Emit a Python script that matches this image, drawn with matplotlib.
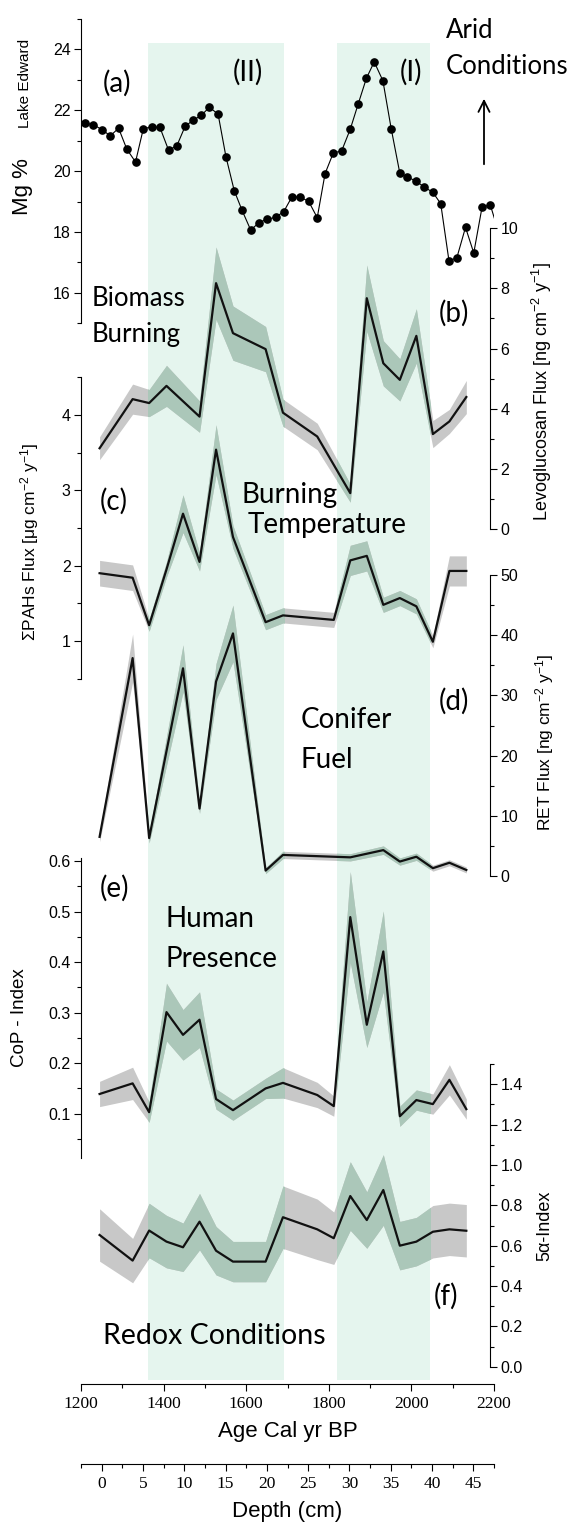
import matplotlib
matplotlib.use('Agg')
import numpy as np
import matplotlib.pyplot as plt
from matplotlib.patches import Rectangle

plt.rcParams['font.family'] = ['Liberation Sans', 'DejaVu Sans']
plt.rcParams['mathtext.default'] = 'regular'

###############################################################################
# Data

# shaded periods (II) and (I), cal yr BP
periods = [(1363, 1691), (1819, 2045)]

# (a) Lake Edward Mg %
mg_age = [1209, 1230, 1252, 1271, 1291, 1311, 1332, 1351, 1372, 1391,
          1412, 1432, 1452, 1471, 1491, 1511, 1532, 1551, 1571, 1590,
          1611, 1631, 1651, 1671, 1691, 1711, 1731, 1751, 1772, 1791,
          1811, 1831, 1852, 1871, 1891, 1910, 1931, 1951, 1972, 1990,
          2011, 2031, 2052, 2071, 2091, 2110, 2131, 2151, 2171, 2191, 2211]
mg_pct = [21.57, 21.53, 21.35, 21.16, 21.41, 20.72, 20.30, 21.40, 21.45, 21.44,
          20.69, 20.83, 21.47, 21.67, 21.83, 22.10, 21.87, 20.47, 19.36, 18.71,
          18.06, 18.31, 18.42, 18.48, 18.67, 19.16, 19.14, 19.01, 18.47, 19.92,
          20.60, 20.66, 21.38, 22.20, 23.05, 23.59, 22.97, 21.40, 19.93, 19.81,
          19.67, 19.48, 19.30, 18.93, 17.05, 17.15, 18.15, 17.31, 18.81, 18.89, 18.0]

# (b) levoglucosan flux
levo_age = [1245, 1325, 1365, 1407, 1487, 1527, 1568, 1647, 1689, 1772,
            1852, 1892, 1932, 1972, 2012, 2052, 2092, 2133]
levo_flux = [2.69, 4.32, 4.19, 4.76, 3.74, 8.17, 6.51, 5.98, 3.87, 3.08,
             1.20, 7.67, 5.51, 4.96, 6.42, 3.16, 3.58, 4.39]
levo_err = [0.38, 0.5, 0.45, 0.68, 0.52, 1.2, 0.9, 0.75, 0.45, 0.44,
            0.3, 1.1, 0.75, 0.7, 0.9, 0.45, 0.4, 0.55]

# (c) sum PAHs flux
pah_age = [1245, 1325, 1365, 1407, 1447, 1487, 1527, 1568, 1647, 1689,
           1812, 1852, 1892, 1932, 1972, 2012, 2052, 2092, 2133]
pah_flux = [1.90, 1.84, 1.21, 1.95, 2.69, 2.05, 3.54, 2.38, 1.25, 1.34,
            1.28, 2.07, 2.13, 1.48, 1.57, 1.46, 0.99, 1.93, 1.93]
pah_err = [0.17, 0.17, 0.08, 0.1, 0.25, 0.12, 0.33, 0.15, 0.1, 0.1,
           0.1, 0.2, 0.2, 0.1, 0.1, 0.1, 0.08, 0.2, 0.2]

# (d) retene flux
ret_age = [1245, 1325, 1365, 1447, 1487, 1527, 1568, 1647, 1689, 1852,
           1932, 1972, 2012, 2052, 2092, 2133]
ret_flux = [6.5, 36.2, 6.3, 34.5, 11.2, 32.3, 40.3, 0.9, 3.5, 3.1,
            4.3, 2.4, 3.2, 1.3, 2.2, 1.0]
ret_err = [0.8, 4.0, 0.8, 3.9, 0.8, 3.0, 4.7, 0.5, 0.6, 0.6,
           0.7, 0.6, 0.6, 0.5, 0.5, 0.5]

# (e) CoP index
cop_age = [1245, 1325, 1365, 1407, 1447, 1487, 1527, 1568, 1647, 1689,
           1772, 1812, 1852, 1892, 1932, 1972, 2012, 2052, 2092, 2133]
cop_index = [0.139, 0.160, 0.103, 0.301, 0.256, 0.286, 0.129, 0.107, 0.150, 0.161,
             0.137, 0.115, 0.489, 0.276, 0.421, 0.095, 0.127, 0.119, 0.167, 0.109]
cop_err = [0.025, 0.032, 0.02, 0.057, 0.05, 0.055, 0.02, 0.02, 0.02, 0.03,
           0.025, 0.02, 0.09, 0.045, 0.08, 0.02, 0.02, 0.02, 0.03, 0.02]

# (f) 5alpha index
five_age = [1245, 1325, 1365, 1407, 1447, 1487, 1527, 1568, 1647, 1689,
            1772, 1812, 1852, 1892, 1932, 1972, 2012, 2052, 2092, 2133]
five_index = [0.653, 0.526, 0.675, 0.620, 0.592, 0.719, 0.575, 0.521, 0.521, 0.741,
              0.681, 0.637, 0.846, 0.727, 0.876, 0.600, 0.620, 0.669, 0.681, 0.674]
five_err = [0.13, 0.11, 0.135, 0.13, 0.12, 0.14, 0.12, 0.1, 0.1, 0.155,
            0.15, 0.13, 0.17, 0.14, 0.175, 0.12, 0.12, 0.13, 0.13, 0.13]

###############################################################################
# Layout (pixels of the 575 x 1524 figure)
W, H = 575, 1524
L, R = 81, 494          # x pixel of 1200 and 2200 yr BP
TOP, BOT = 19, 1384     # vertical extent shared by all panels
RECT = [L / W, 1 - BOT / H, (R - L) / W, (BOT - TOP) / H]
RIGHT_SPINE = 2191

MINT = '#e5f5ee'
GREY = '#c8c8c8'
GREEN_GREY = '#abc7b9'
ANNOT = dict(family='Lato', color='black')

fig = plt.figure(figsize=(W / 100, H / 100), dpi=100)

# base axes: y data = pixel row, used for spans and annotations
ax0 = fig.add_axes(RECT)
ax0.set_xlim(1200, 2200)
ax0.set_ylim(BOT, TOP)
for s in ['left', 'right', 'top']:
    ax0.spines[s].set_visible(False)
ax0.spines['bottom'].set_linewidth(0.8)
ax0.set_yticks([])
ax0.set_xticks(np.arange(1200, 2201, 200))
ax0.set_xticks(np.arange(1300, 2200, 200), minor=True)
ax0.tick_params(axis='x', which='major', length=5, width=0.8, direction='out', pad=4)
ax0.tick_params(axis='x', which='minor', length=3, width=0.8, direction='out')
for t in ax0.get_xticklabels():
    t.set_family('Liberation Serif')
    t.set_fontsize(12.5)
ax0.set_xlabel('Age Cal yr BP', fontsize=16, labelpad=6)
for a0, a1 in periods:
    ax0.add_patch(Rectangle((a0, 43), a1 - a0, 1337, color=MINT, lw=0, zorder=0))


def px_to_age(px):
    return 1200 + (px - L) * 1000 / (R - L)


def make_panel(v1, p1, v2, p2, side, bounds, major, minor, fmt=None):
    s = (v2 - v1) / (p2 - p1)
    ax = fig.add_axes(RECT)
    ax.patch.set_visible(False)
    ax.set_xlim(1200, 2200)
    ax.set_ylim(v1 + (BOT - p1) * s, v1 + (TOP - p1) * s)
    ax.set_xticks([])
    other = 'right' if side == 'left' else 'left'
    for sp in ['top', 'bottom', other]:
        ax.spines[sp].set_visible(False)
    ax.spines[side].set_bounds(*bounds)
    ax.spines[side].set_linewidth(0.8)
    if side == 'right':
        ax.spines['right'].set_position(('data', RIGHT_SPINE))
        ax.yaxis.tick_right()
    ax.set_yticks(major)
    ax.set_yticks(minor, minor=True)
    if fmt:
        ax.set_yticklabels([fmt % v for v in major])
    ax.tick_params(axis='y', which='major', length=5, width=0.8,
                   direction='out', labelsize=11.5, pad=2.5)
    ax.tick_params(axis='y', which='minor', length=2.8, width=0.8, direction='out')
    return ax


def band_line(ax, age, val, err):
    val = np.array(val)
    err = np.array(err)
    lo, hi = val - err, val + err
    ax.fill_between(age, lo, hi, color=GREY, lw=0)
    y0, y1 = ax.get_ylim()
    for a0, a1 in periods:
        f = ax.fill_between(age, lo, hi, color=GREEN_GREY, lw=0)
        f.set_clip_path(Rectangle((a0, y0), a1 - a0, y1 - y0, transform=ax.transData))
    ax.plot(age, val, color='#111111', lw=1.6)


def side_label(ax, text, px, py, size, side):
    ax.yaxis.set_label_position(side)
    ax.set_ylabel(text, fontsize=size)
    ax.yaxis.label.set_verticalalignment('center')
    ax.yaxis.set_label_coords((px - L) / (R - L), (BOT - py) / (BOT - TOP))


# (a) Mg %
ax_a = make_panel(24, 49.3, 16, 292.7, 'left', (15, 25),
                  [16, 18, 20, 22, 24], [15, 17, 19, 21, 23, 25])
ax_a.plot(mg_age, mg_pct, color='black', lw=0.8, marker='o', ms=5.2)
side_label(ax_a, 'Mg %', 23, 187, 16, 'left')

# (b) levoglucosan
ax_b = make_panel(10, 228, 0, 529.3, 'right', (0, 10),
                  [0, 2, 4, 6, 8, 10], [1, 3, 5, 7, 9])
band_line(ax_b, levo_age, levo_flux, levo_err)
side_label(ax_b, 'Levoglucosan Flux [ng cm$^{-2}$ y$^{-1}$]', 542, 392, 13, 'right')

# (c) PAHs
ax_c = make_panel(4, 415, 1, 641, 'left', (0.5, 4.5),
                  [1, 2, 3, 4], [0.5, 1.5, 2.5, 3.5, 4.5])
band_line(ax_c, pah_age, pah_flux, pah_err)
side_label(ax_c, '\u03a3PAHs Flux [\u03bcg cm$^{-2}$ y$^{-1}$]', 30, 542, 12.5, 'left')

# (d) retene
ax_d = make_panel(50, 575, 0, 876, 'right', (0, 50),
                  [0, 10, 20, 30, 40, 50], [5, 15, 25, 35, 45])
band_line(ax_d, ret_age, ret_flux, ret_err)
side_label(ax_d, 'RET Flux [ng cm$^{-2}$ y$^{-1}$]', 545, 742, 12.5, 'right')

# (e) CoP index
ax_e = make_panel(0.6, 861, 0.1, 1113.7, 'left', (0.012, 0.605),
                  [0.1, 0.2, 0.3, 0.4, 0.5, 0.6],
                  [0.05, 0.15, 0.25, 0.35, 0.45, 0.55], fmt='%.1f')
band_line(ax_e, cop_age, cop_index, cop_err)
side_label(ax_e, 'CoP - Index', 20, 1018, 13.5, 'left')

# (f) 5alpha index
ax_f = make_panel(1.4, 1084.3, 0.0, 1366.7, 'right', (0, 1.5),
                  [0.0, 0.2, 0.4, 0.6, 0.8, 1.0, 1.2, 1.4],
                  [0.1, 0.3, 0.5, 0.7, 0.9, 1.1, 1.3, 1.5], fmt='%.1f')
band_line(ax_f, five_age, five_index, five_err)
side_label(ax_f, '5\u03b1-Index', 545, 1226, 13, 'right')

###############################################################################
# Annotations (x in yr BP, y in pixel rows)
ax0.text(px_to_age(24.5), 83, 'Lake Edward', rotation=90, ha='center', va='center',
         fontsize=11)
ax0.text(px_to_age(117), 83, '(a)', ha='center', va='center', fontsize=20, **ANNOT)
ax0.text(px_to_age(248), 72, '(II)', ha='center', va='center', fontsize=20, **ANNOT)
ax0.text(px_to_age(410.5), 72, '(I)', ha='center', va='center', fontsize=20, **ANNOT)
ax0.text(px_to_age(445.5), 37.7, 'Arid', ha='left', va='baseline', fontsize=18.5, **ANNOT)
ax0.text(px_to_age(445.5), 74, 'Conditions', ha='left', va='baseline', fontsize=18.5, **ANNOT)
ax0.annotate('', xy=(px_to_age(484), 96), xytext=(px_to_age(484), 167),
             arrowprops=dict(arrowstyle='->', lw=1.3, color='black', mutation_scale=20))

ax0.text(px_to_age(91.7), 306, 'Biomass', ha='left', va='baseline', fontsize=18.5, **ANNOT)
ax0.text(px_to_age(91.7), 341.7, 'Burning', ha='left', va='baseline', fontsize=18.5, **ANNOT)
ax0.text(px_to_age(453.6), 313, '(b)', ha='center', va='center', fontsize=20, **ANNOT)

ax0.text(px_to_age(113.7), 501.7, '(c)', ha='center', va='center', fontsize=20, **ANNOT)
ax0.text(px_to_age(241), 503.3, 'Burning', ha='left', va='baseline', fontsize=20, **ANNOT)
ax0.text(px_to_age(247.5), 533.3, 'Temperature', ha='left', va='baseline', fontsize=20, **ANNOT)

ax0.text(px_to_age(300.7), 728.3, 'Conifer', ha='left', va='baseline', fontsize=20, **ANNOT)
ax0.text(px_to_age(300.7), 768.3, 'Fuel', ha='left', va='baseline', fontsize=20, **ANNOT)
ax0.text(px_to_age(453.6), 701.7, '(d)', ha='center', va='center', fontsize=20, **ANNOT)

ax0.text(px_to_age(114.4), 888.3, '(e)', ha='center', va='center', fontsize=20, **ANNOT)
ax0.text(px_to_age(165), 926.7, 'Human', ha='left', va='baseline', fontsize=20, **ANNOT)
ax0.text(px_to_age(165), 966.7, 'Presence', ha='left', va='baseline', fontsize=20, **ANNOT)

ax0.text(px_to_age(446.2), 1296.7, '(f)', ha='center', va='center', fontsize=20, **ANNOT)
ax0.text(px_to_age(102.7), 1344, 'Redox Conditions', ha='left', va='baseline',
         fontsize=20.5, **ANNOT)

###############################################################################
# Depth axis
DEPTH_Y = 1464
axd = fig.add_axes([L / W, 1 - DEPTH_Y / H, (R - L) / W, 1e-4])
axd.patch.set_visible(False)
for s in ['left', 'right', 'top']:
    axd.spines[s].set_visible(False)
axd.spines['bottom'].set_linewidth(0.8)
axd.set_yticks([])
axd.set_xlim(-2.16, 47.44)
axd.set_xticks(np.arange(0, 46, 5))
axd.set_xticks(np.arange(-2.5, 47.6, 2.5)[np.arange(-2.5, 47.6, 2.5) % 5 != 0], minor=True)
axd.tick_params(axis='x', which='major', length=5, width=0.8, direction='out', pad=4)
axd.tick_params(axis='x', which='minor', length=3, width=0.8, direction='out')
for t in axd.get_xticklabels():
    t.set_family('Liberation Serif')
    t.set_fontsize(12.5)
axd.set_xlabel('Depth (cm)', fontsize=16, labelpad=6)

fig.savefig('out.png', dpi=100)
